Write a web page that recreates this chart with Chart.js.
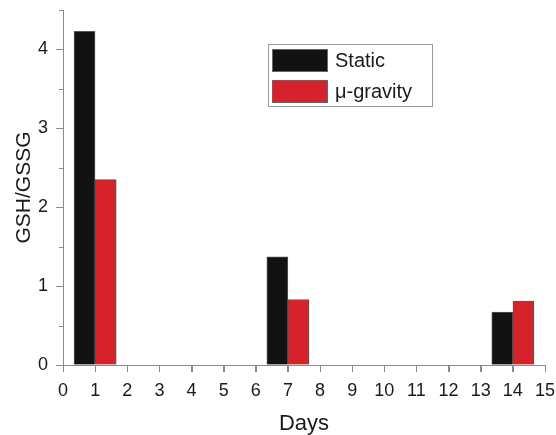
<!DOCTYPE html>
<html>
<head>
<meta charset="utf-8">
<script src="https://cdn.jsdelivr.net/npm/chart.js@4"></script>
<style>
  html, body { margin: 0; padding: 0; background: #fff; }
  #wrap { width: 556px; height: 435px; }
</style>
</head>
<body>
<div id="wrap"><canvas id="chart" width="556" height="435"></canvas></div>
<script>
// data
const days = [1, 7, 14];
const staticVals = [4.23, 1.37, 0.67];
const gravityVals = [2.35, 0.83, 0.81];
const seriesNames = ['Static', '\u03bc-gravity'];
const xTicks = [0, 1, 2, 3, 4, 5, 6, 7, 8, 9, 10, 11, 12, 13, 14, 15];
const yTicks = [0, 1, 2, 3, 4];

const FONT = "'Liberation Sans', Arial, sans-serif";
const AXIS = '#8a8a8a';
const TEXT = '#1a1a1a';

// each pair sits side by side with the day tick between them
const half = 0.33;
function toPoints(vals, shift) {
    return days.map((d, i) => ({ x: d + shift, y: vals[i] }));
}

// tick marks (major + short minor on y) and the boxed legend
const extras = {
    id: 'extras',
    afterDraw(chart) {
        const ctx = chart.ctx;
        const x = chart.scales.x;
        const y = chart.scales.y;
        const area = chart.chartArea;
        ctx.save();
        ctx.strokeStyle = AXIS;
        ctx.lineWidth = 1;
        const ytick = (v, len) => {
            const py = Math.round(y.getPixelForValue(v)) + 0.5;
            ctx.beginPath();
            ctx.moveTo(area.left - len, py);
            ctx.lineTo(area.left, py);
            ctx.stroke();
        };
        yTicks.forEach(v => ytick(v, 7));
        yTicks.forEach(v => ytick(v + 0.5, 4));
        xTicks.forEach(v => {
            const px = Math.round(x.getPixelForValue(v)) + 0.5;
            ctx.beginPath();
            ctx.moveTo(px, area.bottom);
            ctx.lineTo(px, area.bottom + 7);
            ctx.stroke();
        });

        // legend box
        const bx = 268, by = 44, bw = 164, bh = 62;
        ctx.strokeStyle = '#9a9a9a';
        ctx.strokeRect(bx + 0.5, by + 0.5, bw, bh);
        ctx.font = '20px ' + FONT;
        ctx.textBaseline = 'middle';
        chart.data.datasets.forEach((ds, i) => {
            const sy = by + 5 + i * 31;
            ctx.fillStyle = ds.backgroundColor;
            ctx.fillRect(bx + 4, sy, 55, 22);
            ctx.strokeStyle = '#666';
            ctx.strokeRect(bx + 4.5, sy + 0.5, 55, 22);
            ctx.fillStyle = TEXT;
            ctx.fillText(ds.label, bx + 67, sy + 12);
        });
        ctx.restore();
    }
};

new Chart(document.getElementById('chart'), {
    type: 'bar',
    data: {
        datasets: [{
            label: seriesNames[0],
            data: toPoints(staticVals, -half),
            backgroundColor: '#121212',
            borderColor: '#555',
            borderWidth: 1,
            barThickness: 21
        }, {
            label: seriesNames[1],
            data: toPoints(gravityVals, half),
            backgroundColor: '#d8222b',
            borderColor: '#555',
            borderWidth: 1,
            barThickness: 21
        }]
    },
    options: {
        responsive: false,
        animation: false,
        layout: { padding: { top: 10, right: 11, bottom: 0, left: 0 } },
        plugins: { legend: { display: false }, tooltip: { enabled: false } },
        datasets: { bar: { grouped: false } },
        scales: {
            x: {
                type: 'linear',
                min: 0,
                max: 15,
                offset: false,
                afterBuildTicks: s => { s.ticks = xTicks.map(v => ({ value: v })); },
                afterFit: s => { s.height = 70; s.paddingLeft = 0; s.paddingRight = 0; },
                border: { color: AXIS, width: 1 },
                grid: { drawOnChartArea: false, offset: false, tickLength: 7, color: AXIS },
                ticks: { color: TEXT, font: { family: FONT, size: 18 }, padding: 8, maxRotation: 0, autoSkip: false },
                title: { display: true, text: 'Days', color: TEXT, font: { family: FONT, size: 22, lineHeight: 1 }, padding: { top: 0, bottom: 0 } }
            },
            y: {
                min: 0,
                max: 4.5,
                afterBuildTicks: s => { s.ticks = yTicks.map(v => ({ value: v })); },
                afterFit: s => { s.width = 63; s.paddingTop = 0; s.paddingBottom = 0; },
                border: { color: AXIS, width: 1 },
                grid: { drawOnChartArea: false, tickLength: 7, color: AXIS },
                ticks: { color: TEXT, font: { family: FONT, size: 18 }, padding: 8 },
                title: { display: true, text: 'GSH/GSSG', color: TEXT, font: { family: FONT, size: 21 }, padding: { top: 12, bottom: 0 } }
            }
        }
    },
    plugins: [extras]
});
</script>
</body>
</html>
